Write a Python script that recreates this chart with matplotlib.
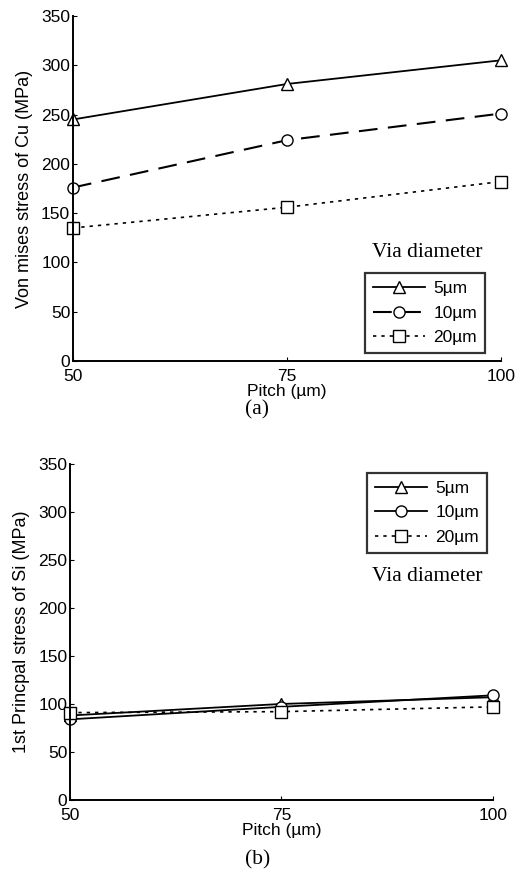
import matplotlib.pyplot as plt
import numpy as np

# data
pitch = [50, 75, 100]
labels = ['5µm', '10µm', '20µm']

cu_5 = [245, 281, 305]
cu_10 = [176, 224, 251]
cu_20 = [135, 156, 182]

si_5 = [88, 100, 107]
si_10 = [84, 97, 109]
si_20 = [91, 92, 97]

plt.rcParams['font.family'] = ['Liberation Sans', 'DejaVu Sans']

fig = plt.figure(figsize=(5.15, 8.85), dpi=100)
ax1 = fig.add_axes([0.1417, 0.592, 0.831, 0.390])
ax2 = fig.add_axes([0.136, 0.096, 0.821, 0.380])


def style_axes(ax, ylabel):
    ax.set_xlim(50, 100)
    ax.set_ylim(0, 350)
    ax.set_xticks(pitch)
    ax.set_yticks(np.arange(0, 351, 50))
    ax.spines['top'].set_visible(False)
    ax.spines['right'].set_visible(False)
    ax.spines['left'].set_linewidth(1.4)
    ax.spines['bottom'].set_linewidth(1.4)
    ax.tick_params(direction='in', length=3, labelsize=12.5, pad=2)
    ax.tick_params(axis='x', pad=6)
    ax.set_xlabel('Pitch (µm)', fontsize=12.5, labelpad=0)
    ax.set_ylabel(ylabel, fontsize=13, labelpad=6)


mk = dict(color='black', markerfacecolor='white', markersize=8, clip_on=False,
          markeredgewidth=1.0)
leg_kw = dict(fontsize=12.5, frameon=True, fancybox=False, edgecolor='black',
              handlelength=3.0, handletextpad=0.5, borderpad=0.45,
              labelspacing=0.55, borderaxespad=0)

# (a) copper
ax1.plot(pitch, cu_5, '-', marker='^', lw=1.3, label=labels[0], **mk)
ax1.plot(pitch, cu_10, linestyle=(0, (9, 5)), marker='o', lw=1.5, label=labels[1], **mk)
ax1.plot(pitch, cu_20, linestyle=(0, (2, 3)), marker='s', lw=1.2, label=labels[2], **mk)
style_axes(ax1, 'Von mises stress of Cu (MPa)')
leg1 = ax1.legend(loc='lower right', bbox_to_anchor=(0.963, 0.023), **leg_kw)
leg1.get_frame().set_linewidth(1.6)
ax1.text(0.827, 0.316, 'Via diameter', transform=ax1.transAxes, ha='center',
         va='center', fontsize=15.5, family='Liberation Serif')

# (b) silicon
ax2.plot(pitch, si_5, '-', marker='^', lw=1.3, label=labels[0], **mk)
ax2.plot(pitch, si_10, '-', marker='o', lw=1.3, label=labels[1], **mk)
ax2.plot(pitch, si_20, linestyle=(0, (2, 3)), marker='s', lw=1.2, label=labels[2], **mk)
style_axes(ax2, '1st Princpal stress of Si (MPa)')
leg2 = ax2.legend(loc='upper right', bbox_to_anchor=(0.986, 0.973), **leg_kw)
leg2.get_frame().set_linewidth(1.6)
ax2.text(0.845, 0.664, 'Via diameter', transform=ax2.transAxes, ha='center',
         va='center', fontsize=15.5, family='Liberation Serif')

fig.text(0.5, 1 - 410 / 885, '(a)', ha='center', va='center', fontsize=15.5,
         family='Liberation Serif')
fig.text(0.5, 1 - 860 / 885, '(b)', ha='center', va='center', fontsize=15.5,
         family='Liberation Serif')

fig.savefig('out.png', dpi=100)
